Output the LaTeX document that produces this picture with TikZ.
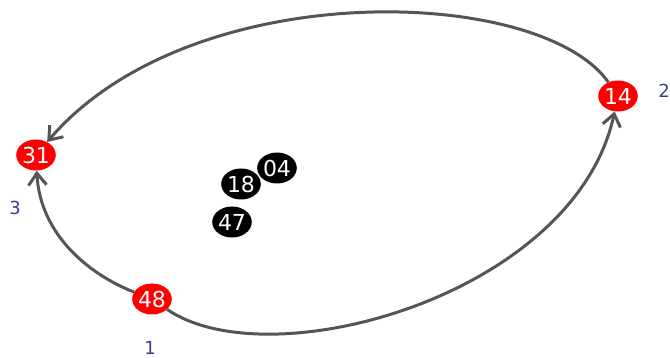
\documentclass[tikz,border=0pt]{standalone}
\usepackage{fontspec}
\setmainfont{DejaVu Sans}
\usetikzlibrary{arrows.meta,shapes.geometric}
\definecolor{edgegray}{HTML}{555555}
\definecolor{labblue}{HTML}{3A3F8A}
\begin{document}
\begin{tikzpicture}[x=1pt,y=-1pt,
  vtx/.style={ellipse,inner sep=0pt,minimum width=36pt,minimum height=31pt,text=white,font=\fontsize{22}{22}\selectfont},
  redv/.style={vtx,fill=red},
  blackv/.style={vtx,fill=black},
  lab/.style={text=labblue,font=\fontsize{18}{18}\selectfont,inner sep=0pt},
  edge/.style={draw=edgegray,line width=3pt,-{Straight Barb[length=12pt,width=18pt]}}]
\useasboundingbox (0,0) rectangle (670,358);
\node[redv] (n31) at (36,155) {31};
\node[redv] (n14) at (618,96) {14};
\node[redv] (n48) at (152,299) {48};
\node[blackv] (n04) at (277,168) {04};
\node[blackv] (n18) at (241,184) {18};
\node[blackv] (n47) at (232,222) {47};
\node[lab] (l2) at (664,91) {2};
\node[lab] (l3) at (15,208) {3};
\node[lab] (l1) at (150,348) {1};
\draw[edge] (n14) .. controls (540,-15) and (190,-25) .. (n31);
\draw[edge] (n48) .. controls (270,380) and (575,295) .. (n14);
\draw[edge] (n48) .. controls (90,275) and (40,235) .. (n31);
\end{tikzpicture}
\end{document}
